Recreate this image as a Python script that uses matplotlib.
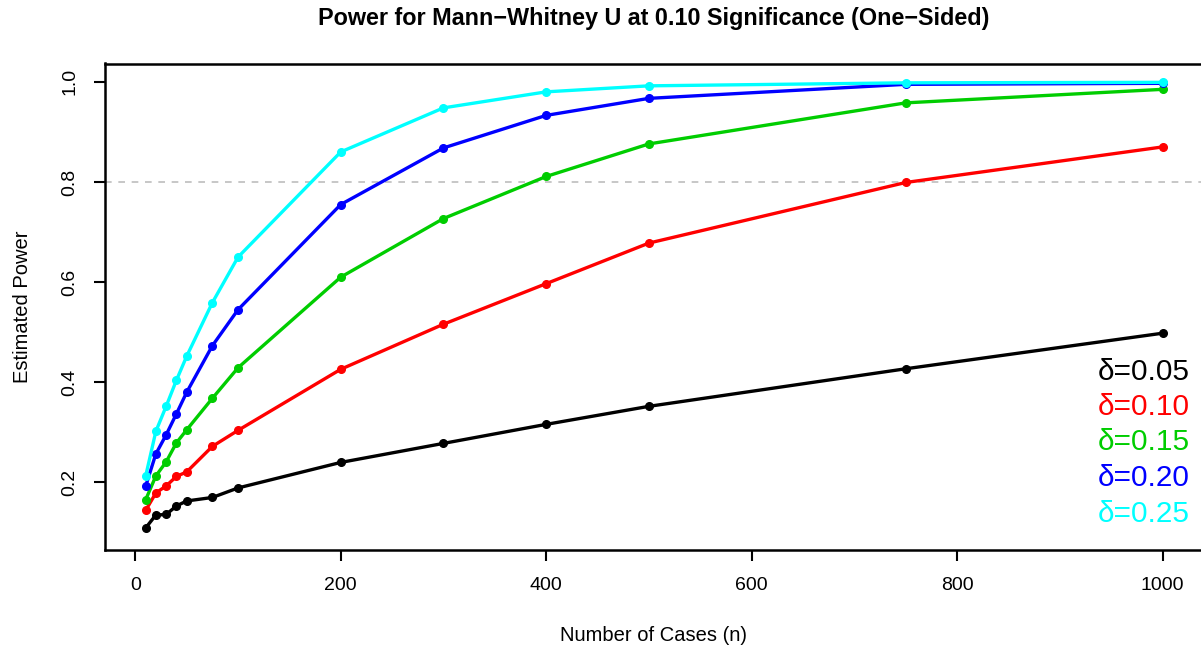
import matplotlib
matplotlib.use("Agg")
import matplotlib.pyplot as plt

plt.rcParams['font.family'] = ['Liberation Sans', 'DejaVu Sans']

n_cases = [10, 20, 30, 40, 50, 75, 100, 200, 300, 400, 500, 750, 1000]

power_005 = [0.109, 0.135, 0.136, 0.153, 0.163, 0.170, 0.189, 0.240, 0.278, 0.316, 0.352, 0.427, 0.498]
power_010 = [0.144, 0.179, 0.193, 0.212, 0.221, 0.272, 0.304, 0.426, 0.516, 0.597, 0.678, 0.799, 0.870]
power_015 = [0.165, 0.213, 0.241, 0.279, 0.305, 0.368, 0.429, 0.610, 0.727, 0.811, 0.876, 0.958, 0.985]
power_020 = [0.192, 0.257, 0.295, 0.337, 0.380, 0.473, 0.545, 0.755, 0.868, 0.933, 0.967, 0.995, 0.997]
power_025 = [0.212, 0.302, 0.352, 0.404, 0.452, 0.559, 0.650, 0.860, 0.948, 0.980, 0.992, 0.998, 0.999]

series = [power_005, power_010, power_015, power_020, power_025]
labels = ["δ=0.05", "δ=0.10", "δ=0.15", "δ=0.20", "δ=0.25"]
colors = ["#000000", "#FF0000", "#00CD00", "#0000FF", "#00FFFF"]

title = "Power for Mann\u2212Whitney U at 0.10 Significance (One\u2212Sided)"
xlabel = "Number of Cases (n)"
ylabel = "Estimated Power"
xticks = [0, 200, 400, 600, 800, 1000]
yticks = [0.2, 0.4, 0.6, 0.8, 1.0]

W, H = 1201, 650
fig = plt.figure(figsize=(W / 100, H / 100), dpi=100)
left, right, top, bottom = 104.7, 1203.0, 63.5, 549.5
ax = fig.add_axes([left / W, 1 - bottom / H, (right - left) / W, (bottom - top) / H])

ax.axhline(0.8, color="#BEBEBE", linestyle=(0, (4, 4)), linewidth=1.2, zorder=1)

for vals, col in zip(series, colors):
    ax.plot(n_cases, vals, color=col, linewidth=2.4, marker="o", markersize=5.5, zorder=3)

ax.set_xlim(-29.8, 1039.4)
ax.set_ylim(0.0661, 1.0366)
ax.set_xticks(xticks)
ax.set_xticklabels([str(t) for t in xticks])
ax.set_yticks(yticks)
ax.set_yticklabels(["%.1f" % t for t in yticks], rotation=90, va="center")
ax.tick_params(axis="both", direction="out", length=8, width=1.5, labelsize=14)
ax.tick_params(axis="x", pad=12)
ax.tick_params(axis="y", pad=11)
for sp in ax.spines.values():
    sp.set_linewidth(1.8)

ax.set_title(title, fontsize=16.8, fontweight="bold", pad=28)
ax.set_xlabel(xlabel, fontsize=14.5, labelpad=23)
ax.set_ylabel(ylabel, fontsize=14.5, labelpad=21)

legend_y_px = [371.5, 406.7, 442.2, 477.8, 514.0]
for lab, col, ypx in zip(labels, colors, legend_y_px):
    fig.text(1190 / W, 1 - ypx / H, lab, color=col, fontsize=21.4,
             ha="right", va="center")

fig.savefig("out.png", dpi=100)
